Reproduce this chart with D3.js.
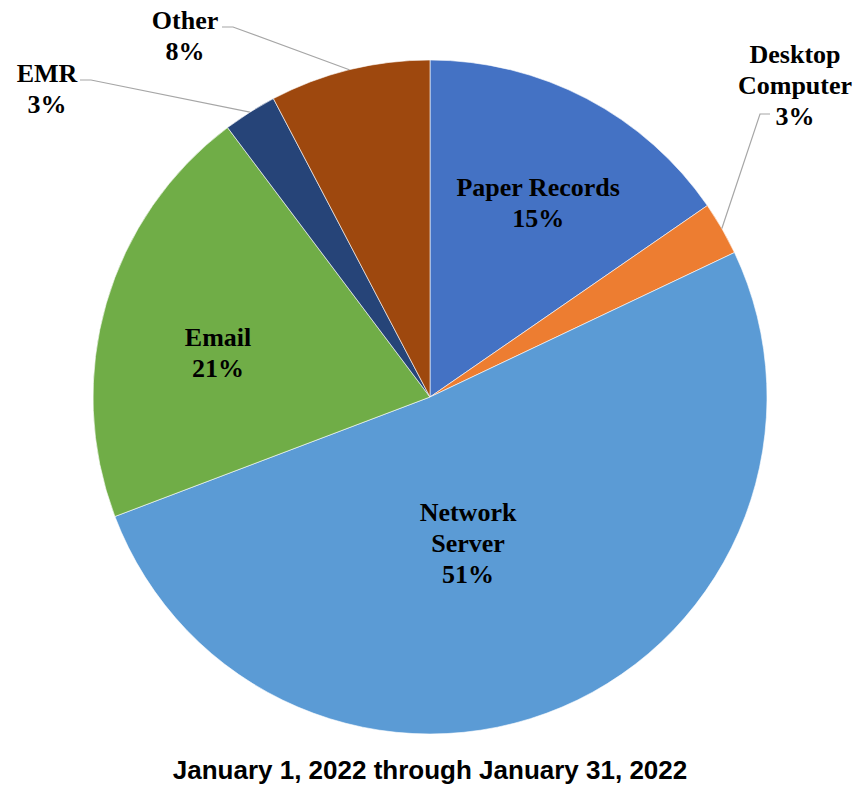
<!DOCTYPE html>
<html>
<head>
<meta charset="utf-8">
<script src="https://cdn.jsdelivr.net/npm/d3@7"></script>
<style>
  body { margin: 0; background: #fff; }
  svg { display: block; }
</style>
</head>
<body>
<svg id="chart"></svg>
<script>
// incidents by location of breached information
const categories = ["Paper Records", "Desktop Computer", "Network Server", "Email", "EMR", "Other"];
const counts = [6, 1, 20, 8, 1, 3];
const colors = ["#4472C4", "#ED7D31", "#5B9BD5", "#70AD47", "#264478", "#9E480E"];
const title = "January 1, 2022 through January 31, 2022";

const width = 868, height = 785;
const cx = 430, cy = 397, radius = 337;

const svg = d3.select("#chart").attr("width", width).attr("height", height);
const g = svg.append("g").attr("transform", "translate(" + cx + "," + cy + ")");

const total = d3.sum(counts);
const pct = d => Math.round(d / total * 100) + "%";

const pie = d3.pie().sort(null).value(d => d);
const arcs = pie(counts);

const arc = d3.arc().innerRadius(0).outerRadius(radius);
const edgeArc = d3.arc().innerRadius(radius).outerRadius(radius);

g.selectAll("path.slice")
  .data(arcs)
  .enter().append("path")
  .attr("class", "slice")
  .attr("d", arc)
  .attr("fill", (d, i) => colors[i])
  .attr("stroke", "#fff")
  .attr("stroke-width", 0.6);

// label placement: inside labels by radius fraction + angle nudge (deg), outside labels with leader lines
const labelFont = "'Times New Roman', 'Liberation Serif', serif";
const lineH = 31;
const inside = {0: [0.66, 1.4], 2: [0.448, 8.5], 3: [0.643, -4.2]};
const outside = {
  1: {x: 795 - cx, y: 85 - cy, lines: ["Desktop", "Computer"], elbow: [[770 - cx, 114 - cy], [760 - cx, 114 - cy]]},
  4: {x: 47 - cx, y: 88 - cy, lines: ["EMR"], elbow: [[80 - cx, 80 - cy], [91 - cx, 80 - cy]]},
  5: {x: 185 - cx, y: 35 - cy, lines: ["Other"], elbow: [[222 - cx, 27 - cy], [233 - cx, 27 - cy]]}
};

arcs.forEach((d, i) => {
  let x, y, lines;
  if (inside[i] !== undefined) {
    const r = radius * inside[i][0];
    const a = (d.startAngle + d.endAngle) / 2 + inside[i][1] * Math.PI / 180;
    x = r * Math.sin(a); y = -r * Math.cos(a);
    lines = categories[i] === "Network Server" ? ["Network", "Server"] : [categories[i]];
  } else {
    const o = outside[i];
    x = o.x; y = o.y; lines = o.lines;
    const e = edgeArc.centroid(d);
    g.append("polyline")
      .attr("points", [o.elbow[0], o.elbow[1], e].map(p => p.join(",")).join(" "))
      .attr("fill", "none")
      .attr("stroke", "#A6A6A6")
      .attr("stroke-width", 1.2);
  }
  const all = lines.concat([pct(counts[i])]);
  const t = g.append("text")
    .attr("text-anchor", "middle")
    .attr("font-family", labelFont)
    .attr("font-weight", "bold")
    .attr("font-size", 26)
    .attr("fill", "#000");
  all.forEach((s, k) => {
    t.append("tspan")
      .attr("x", x)
      .attr("y", y + (k - (all.length - 1) / 2) * lineH)
      .attr("dy", "0.35em")
      .text(s);
  });
});

svg.append("text")
  .attr("x", cx)
  .attr("y", 779)
  .attr("text-anchor", "middle")
  .attr("font-family", "Arial, 'Liberation Sans', sans-serif")
  .attr("font-weight", "bold")
  .attr("font-size", 26)
  .text(title);
</script>
</body>
</html>
